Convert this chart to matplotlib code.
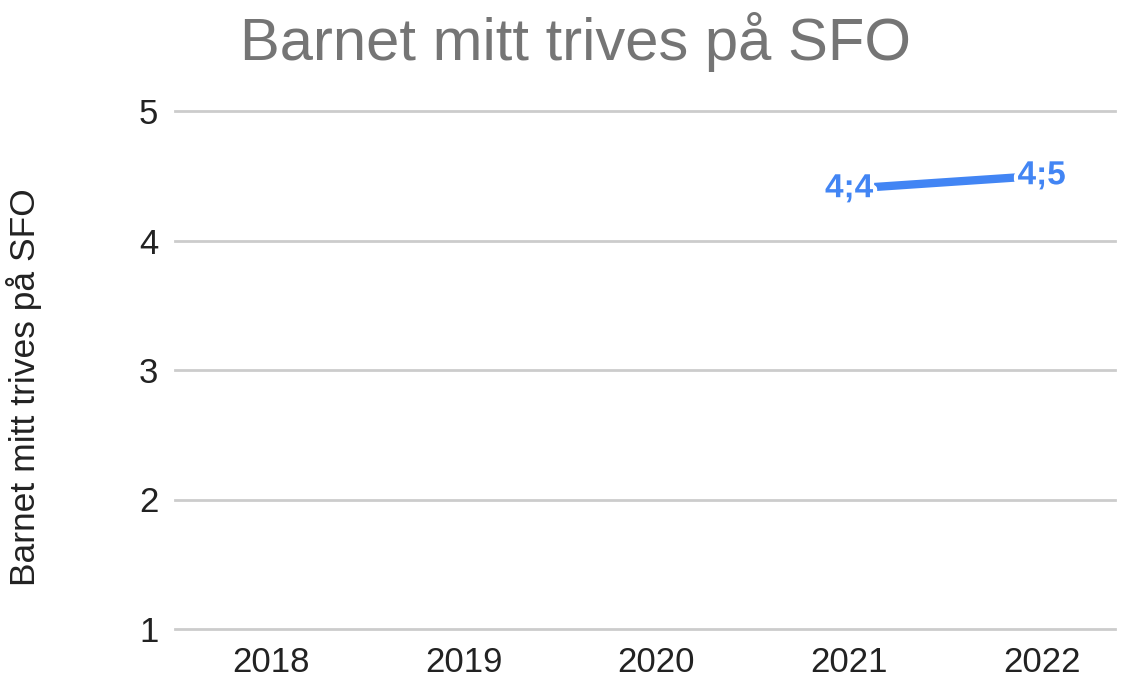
import matplotlib.pyplot as plt
import matplotlib.patheffects as pe
import numpy as np

plt.rcParams['font.family'] = ['Liberation Sans', 'DejaVu Sans']

years = ['2018', '2019', '2020', '2021', '2022']
scores = [np.nan, np.nan, np.nan, 4.4, 4.5]
labels = ['', '', '', '4;4', '4;5']

blue = '#4285f4'
grid = '#cccccc'

fig = plt.figure(figsize=(11.3, 6.8), dpi=100)
ax = fig.add_axes([175 / 1130, 51 / 680, (1115 - 175) / 1130, (629 - 111) / 680])

x = np.arange(len(years))
ax.plot(x, scores, color=blue, linewidth=6, solid_capstyle='butt', zorder=3)

for xi, v, lab in zip(x, scores, labels):
    if lab:
        ax.text(xi, v, lab, color=blue, fontsize=24, fontweight='bold',
                ha='center', va='center', zorder=4,
                path_effects=[pe.withStroke(linewidth=6, foreground='white')])

ax.set_ylim(1, 5)
ax.set_xlim(-0.5, 4.5 - (1138 - 1115) / 192.75)
ax.set_yticks([1, 2, 3, 4, 5])
ax.set_xticks(x)
ax.set_xticklabels(years)
ax.yaxis.grid(True, color=grid, linewidth=2)
for g in ax.get_ygridlines():
    g.set_clip_on(False)
ax.set_axisbelow(True)
for s in ax.spines.values():
    s.set_visible(False)
ax.tick_params(axis='both', length=0, labelsize=25, colors='#222222')
ax.tick_params(axis='y', pad=12)
ax.tick_params(axis='x', pad=12)

ax.set_ylabel('Barnet mitt trives på SFO', fontsize=25.5, color='#222222')
ax.yaxis.set_label_coords(-133 / 940, (629 - 387) / 518)

fig.text(576 / 1130, 1 - 42 / 680, 'Barnet mitt trives på SFO', fontsize=43,
         color='#757575', ha='center', va='center')

fig.savefig('out.png', dpi=100)
